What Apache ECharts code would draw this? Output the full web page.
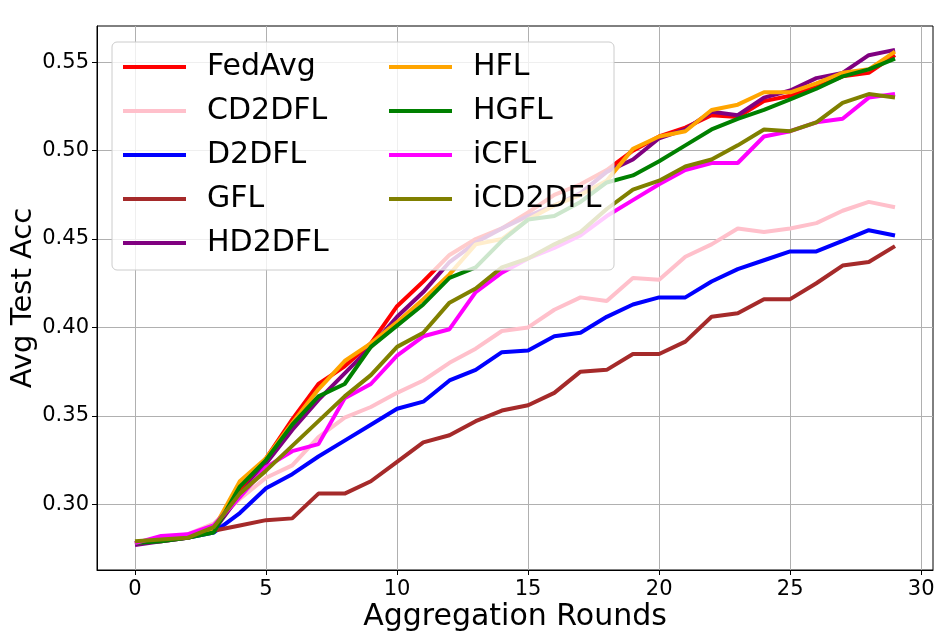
<!DOCTYPE html>
<html>
<head>
<meta charset="utf-8">
<title>Avg Test Acc</title>
<script src="https://cdn.jsdelivr.net/npm/echarts@6/dist/echarts.min.js"></script>
<style>
  html, body { margin: 0; padding: 0; background: #fff; }
  #main { width: 942px; height: 637px; }
</style>
</head>
<body>
<div id="main"></div>
<script>
// rounds + one array per method
var rounds = [0,1,2,3,4,5,6,7,8,9,10,11,12,13,14,15,16,17,18,19,20,21,22,23,24,25,26,27,28,29];

var fedAvg  = [0.278,0.280,0.282,0.285,0.307,0.326,0.348,0.368,0.378,0.391,0.412,0.426,0.441,0.450,0.456,0.465,0.475,0.481,0.489,0.500,0.508,0.513,0.520,0.519,0.528,0.531,0.536,0.542,0.544,0.554];
var cd2dfl  = [0.278,0.280,0.283,0.289,0.303,0.315,0.322,0.338,0.349,0.355,0.363,0.370,0.380,0.388,0.398,0.400,0.410,0.417,0.415,0.428,0.427,0.440,0.447,0.456,0.454,0.456,0.459,0.466,0.471,0.468];
var d2dfl   = [0.278,0.280,0.281,0.284,0.295,0.309,0.317,0.327,0.336,0.345,0.354,0.358,0.370,0.376,0.386,0.387,0.395,0.397,0.406,0.413,0.417,0.417,0.426,0.433,0.438,0.443,0.443,0.449,0.455,0.452];
var gfl     = [0.278,0.279,0.281,0.285,0.288,0.291,0.292,0.306,0.306,0.313,0.324,0.335,0.339,0.347,0.353,0.356,0.363,0.375,0.376,0.385,0.385,0.392,0.406,0.408,0.416,0.416,0.425,0.435,0.437,0.446];
var hd2dfl  = [0.277,0.279,0.281,0.285,0.305,0.323,0.342,0.359,0.374,0.389,0.406,0.420,0.437,0.448,0.456,0.463,0.469,0.476,0.488,0.495,0.507,0.512,0.522,0.520,0.530,0.534,0.541,0.544,0.554,0.557];
var hfl     = [0.278,0.280,0.281,0.286,0.313,0.326,0.346,0.365,0.381,0.391,0.403,0.416,0.430,0.447,0.450,0.461,0.469,0.475,0.483,0.501,0.508,0.511,0.523,0.526,0.533,0.533,0.538,0.544,0.546,0.556];
var hgfl    = [0.278,0.279,0.281,0.284,0.310,0.325,0.345,0.361,0.368,0.389,0.401,0.413,0.428,0.434,0.449,0.461,0.463,0.471,0.482,0.486,0.494,0.503,0.512,0.518,0.523,0.529,0.535,0.542,0.546,0.552];
var icfl    = [0.278,0.282,0.283,0.288,0.304,0.321,0.330,0.334,0.360,0.368,0.384,0.395,0.399,0.420,0.431,0.439,0.445,0.452,0.463,0.472,0.481,0.489,0.493,0.493,0.508,0.511,0.516,0.518,0.530,0.532];
var icd2dfl = [0.279,0.280,0.281,0.287,0.306,0.319,0.333,0.347,0.361,0.373,0.389,0.397,0.414,0.422,0.434,0.439,0.447,0.454,0.467,0.478,0.483,0.491,0.495,0.503,0.512,0.511,0.516,0.527,0.532,0.530];

var names  = ["FedAvg","CD2DFL","D2DFL","GFL","HD2DFL","HFL","HGFL","iCFL","iCD2DFL"];
var values = [fedAvg, cd2dfl, d2dfl, gfl, hd2dfl, hfl, hgfl, icfl, icd2dfl];
var colors = ["#ff0000","#ffc0cb","#0000ff","#a52a2a","#800080","#ffa500","#008000","#ff00ff","#808000"];

var xTicks = [0,5,10,15,20,25,30];
var yTicks = [0.30,0.35,0.40,0.45,0.50,0.55];

var font = "DejaVu Sans";

function makeSeries(){
	var list = [];
	for (var k = 0; k < names.length; k++) {
		var pts = [];
		for (var i = 0; i < rounds.length; i++) {
			pts.push([rounds[i], values[k][i]]);
		}
		list.push({
			name: names[k],
			type: 'line',
			data: pts,
			symbol: 'none',
			color: colors[k],
			lineStyle: { width: 4, color: colors[k] },
			z: 2
		});
	}
	return list;
}

var myChart = echarts.init(document.getElementById('main'), null, { renderer: 'canvas' });

var legendText = { fontFamily: font, fontSize: 30, color: '#000', padding: [0, 0, 0, 16] };

var option = {
	animation: false,
	backgroundColor: '#fff',
	grid: {
		left: 97, top: 26, right: 9, bottom: 67,
		outerBoundsMode: 'none',
		containLabel: false,
		show: true, borderColor: '#000', borderWidth: 1, backgroundColor: 'transparent'
	},
	xAxis: {
		type: 'value',
		min: -1.45, max: 30.45,
		name: 'Aggregation Rounds',
		nameLocation: 'middle',
		nameGap: 32,
		nameMoveOverlap: false,
		nameTextStyle: { fontFamily: font, fontSize: 30, color: '#000' },
		axisLine: { show: true, onZero: false, lineStyle: { color: '#000', width: 1 } },
		axisTick: { show: true, length: 5, customValues: xTicks, lineStyle: { color: '#000' } },
		axisLabel: {
			customValues: xTicks,
			margin: 9,
			fontFamily: font, fontSize: 21, color: '#000',
			formatter: function(v){ return String(Math.round(v)); }
		},
		splitLine: { show: true, lineStyle: { color: '#b0b0b0', width: 1 } }
	},
	yAxis: {
		type: 'value',
		min: 0.2628, max: 0.5705,
		name: 'Avg Test Acc',
		nameLocation: 'middle',
		nameGap: 59,
		nameMoveOverlap: false,
		nameTextStyle: { fontFamily: font, fontSize: 29, color: '#000' },
		axisLine: { show: true, onZero: false, lineStyle: { color: '#000', width: 1 } },
		axisTick: { show: true, length: 5, customValues: yTicks, lineStyle: { color: '#000' } },
		axisLabel: {
			customValues: yTicks,
			margin: 8,
			fontFamily: font, fontSize: 21, color: '#000',
			formatter: function(v){ return v.toFixed(2); }
		},
		splitLine: { show: true, lineStyle: { color: '#b0b0b0', width: 1 } }
	},
	// legend frame (semi transparent, like matplotlib)
	graphic: {
		elements: [{
			type: 'rect',
			z: 3,
			shape: { x: 112, y: 42, width: 502, height: 228, r: 5 },
			style: { fill: 'rgba(255,255,255,0.8)', stroke: '#cccccc', lineWidth: 1 }
		}]
	},
	legend: [{
		data: names.slice(0, 5),
		orient: 'vertical',
		left: 121, top: 52,
		padding: 0,
		itemWidth: 63, itemHeight: 14, itemGap: 14,
		lineStyle: { width: 4 },
		itemStyle: { opacity: 0 },
		textStyle: legendText,
		z: 4
	}, {
		data: names.slice(5),
		orient: 'vertical',
		left: 387, top: 52,
		padding: 0,
		itemWidth: 63, itemHeight: 14, itemGap: 14,
		lineStyle: { width: 4 },
		itemStyle: { opacity: 0 },
		textStyle: legendText,
		z: 4
	}],
	series: makeSeries()
};

myChart.setOption(option, true);
</script>
</body>
</html>
